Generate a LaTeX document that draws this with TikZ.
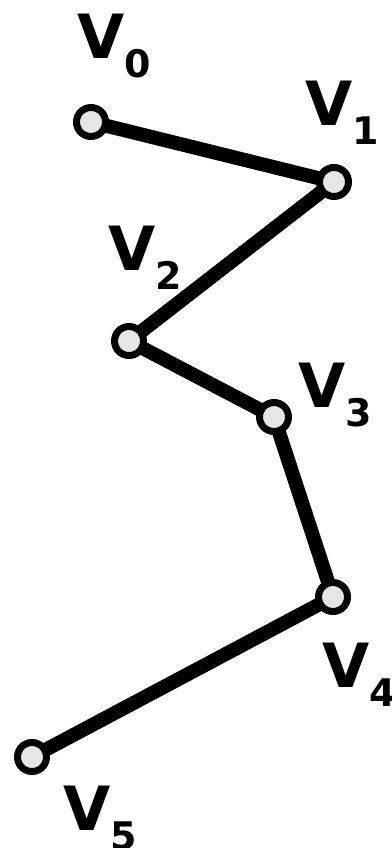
\documentclass[tikz,border=0pt]{standalone}
\usepackage{fontspec}
\setmainfont{DejaVu Sans}[BoldFont={DejaVu Sans Bold}]
\tikzset{
  vert/.style={circle, draw=black, line width=7pt, fill=vfill, minimum size=29pt, inner sep=0pt},
  edge/.style={line width=14pt},
  lbl/.style={anchor=base west, inner sep=0pt, font=\bfseries}
}
\definecolor{vfill}{HTML}{E6E6E6}
\newcommand{\vlab}[1]{\fontsize{61}{61}\selectfont V\raisebox{-19pt}{\fontsize{38}{38}\selectfont #1}}
\begin{document}
\begin{tikzpicture}[x=1pt,y=-1pt]
\useasboundingbox (0,0) rectangle (391,848);
\coordinate (c0) at (91,122);
\coordinate (c1) at (334,182);
\coordinate (c2) at (129,341);
\coordinate (c3) at (274,417);
\coordinate (c4) at (333,597);
\coordinate (c5) at (32,757);
\draw[edge] (c0) -- (c1) -- (c2) -- (c3) -- (c4) -- (c5);
\node[vert] (v0) at (c0) {};
\node[vert] (v1) at (c1) {};
\node[vert] (v2) at (c2) {};
\node[vert] (v3) at (c3) {};
\node[vert] (v4) at (c4) {};
\node[vert] (v5) at (c5) {};
\node[lbl] (l0) at (77,59) {\vlab{0}};
\node[lbl] (l1) at (305,125) {\vlab{1}};
\node[lbl] (l2) at (108,270) {\vlab{2}};
\node[lbl] (l3) at (298,407) {\vlab{3}};
\node[lbl] (l4) at (322,687) {\vlab{4}};
\node[lbl] (l5) at (63,830) {\vlab{5}};
\end{tikzpicture}
\end{document}
